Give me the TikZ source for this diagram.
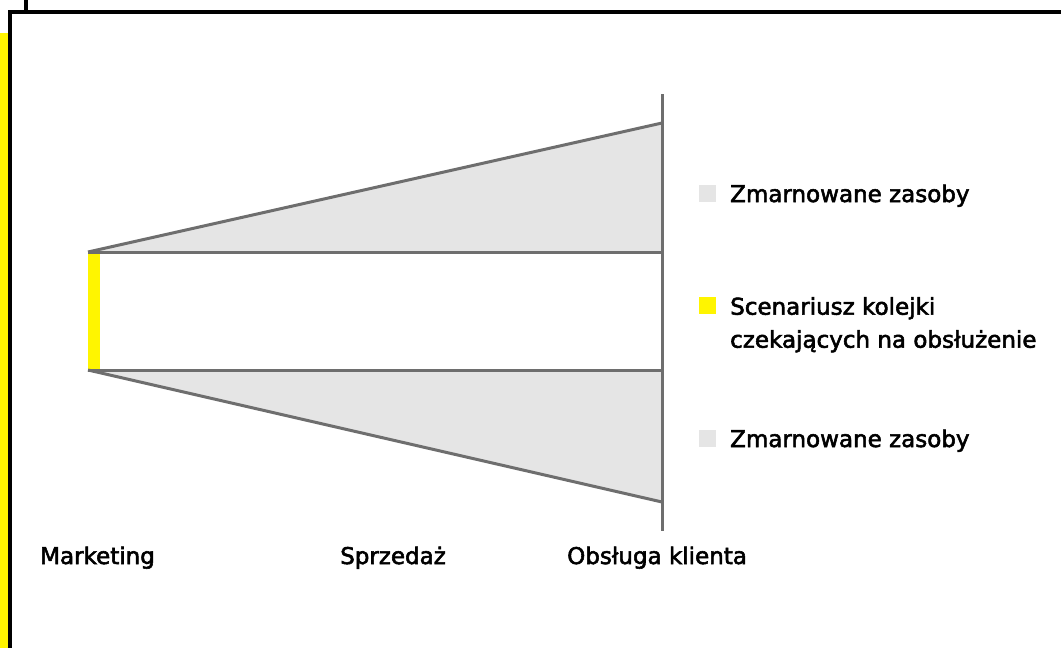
\documentclass[tikz,border=0pt]{standalone}
\usepackage{fontspec}
\setmainfont{DejaVu Sans}
\definecolor{funnelline}{HTML}{6E6E6E}
\definecolor{wastefill}{HTML}{E5E5E5}
\definecolor{accent}{HTML}{FFF500}
% medium-weight text: fill and outline the glyphs
\newcommand\heavier[1]{\special{pdf:literal direct 2 Tr 0.55 w}#1\special{pdf:literal direct 0 Tr}}
\begin{document}
\begin{tikzpicture}[x=1pt,y=-1pt,
  frame/.style={line width=4pt,black},
  edge/.style={line width=3pt,funnelline,line cap=butt},
  label/.style={font=\fontsize{23}{33}\selectfont,anchor=base west,inner sep=0pt,text=black},
  swatch/.style={minimum size=17pt,inner sep=0pt,anchor=south west,draw=none}]
\useasboundingbox (0,0) rectangle (1061,648);
% page frame and side strip
\fill[accent] (0,33) rectangle (7.5,648);
\draw[frame] (25.5,0) -- (25.5,11.5);
\draw[frame] (9.5,648) -- (9.5,11.5) -- (1061,11.5);
% funnel corner points
\coordinate (tl) at (88,252);
\coordinate (bl) at (88,370);
\coordinate (tr) at (662,252);
\coordinate (br) at (662,370);
\coordinate (ttop) at (662,123);
\coordinate (bbot) at (662,502);
\coordinate (axtop) at (662,94);
\coordinate (axbot) at (662,531);
% wasted-capacity wedges
\fill[wastefill] (tl) -- (ttop) -- (tr) -- cycle;
\fill[wastefill] (bl) -- (bbot) -- (br) -- cycle;
% queue scenario bar
\fill[accent] (88,252) rectangle (100,370);
% outlines
\draw[edge] (tl) -- (ttop);
\draw[edge] (tl) -- (tr);
\draw[edge] (bl) -- (br);
\draw[edge] (bl) -- (bbot);
\draw[edge] (axtop) -- (axbot);
% stage labels
\node[label] (mk) at (40,564) {\heavier{Marketing}};
\node[label] (sp) at (340,564) {\heavier{Sprzedaż}};
\node[label] (ob) at (567,564) {\heavier{Obsługa klienta}};
% legend
\node[swatch,fill=wastefill] (k1) at (699,202) {};
\node[label] (l1) at (730,202) {\heavier{Zmarnowane zasoby}};
\node[swatch,fill=accent] (k2) at (699,314) {};
\node[label,align=left,anchor=north west] (l2) at (730,297)
  {\heavier{Scenariusz kolejki}\\\heavier{czekających na obsłużenie}};
\node[swatch,fill=wastefill] (k3) at (699,447) {};
\node[label] (l3) at (730,447) {\heavier{Zmarnowane zasoby}};
\end{tikzpicture}
\end{document}
